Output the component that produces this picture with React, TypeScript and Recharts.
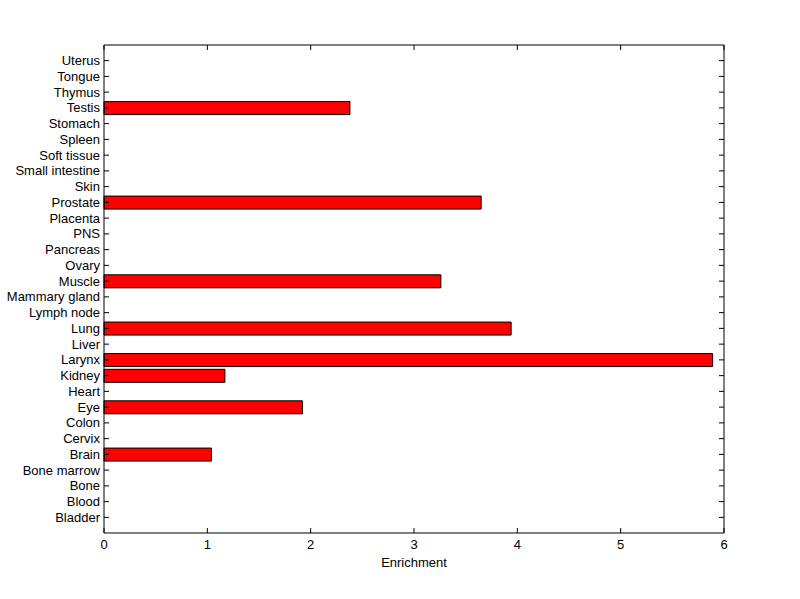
import { BarChart, Bar, XAxis, YAxis } from "recharts";

const tissues = [
  "Uterus", "Tongue", "Thymus", "Testis", "Stomach", "Spleen", "Soft tissue",
  "Small intestine", "Skin", "Prostate", "Placenta", "PNS", "Pancreas", "Ovary",
  "Muscle", "Mammary gland", "Lymph node", "Lung", "Liver", "Larynx", "Kidney",
  "Heart", "Eye", "Colon", "Cervix", "Brain", "Bone marrow", "Bone", "Blood",
  "Bladder",
];

const enrichment = [
  0, 0, 0, 2.38, 0, 0, 0,
  0, 0, 3.65, 0, 0, 0, 0,
  3.26, 0, 0, 3.94, 0, 5.89, 1.17,
  0, 1.92, 0, 0, 1.04, 0, 0, 0,
  0,
];

const xTicks = [0, 1, 2, 3, 4, 5, 6];

const data = tissues.map((name, i) => ({ name, value: enrichment[i] }));

const fontFamily = "Liberation Sans, Arial, sans-serif";
const pad = { top: 7.75, bottom: 7.75 };

const YLabel = ({ x, y, payload }: any) => (
  <text x={x} y={y} dy={4.5} textAnchor="end" fontSize={13} fontFamily={fontFamily} fill="#000">
    {payload.value}
  </text>
);

const XLabel = ({ x, y, payload }: any) => (
  <text x={x} y={y} dy={10} textAnchor="middle" fontSize={13} fontFamily={fontFamily} fill="#000">
    {payload.value}
  </text>
);

const NoLabel = () => <g />;

export default function App() {
  return (
    <div style={{ position: "absolute", left: 0, top: 0, width: 800, height: 599, background: "#fff" }}>
      <BarChart
        width={800}
        height={599}
        data={data}
        layout="vertical"
        barCategoryGap="10%"
        margin={{ top: 40, right: 66, left: 0, bottom: 32 }}
      >
        <XAxis
          type="number"
          dataKey="value"
          domain={[0, 6]}
          ticks={xTicks}
          height={34}
          stroke="#000"
          tick={<XLabel />}
          tickSize={-5}
          tickMargin={11}
          label={{ value: "Enrichment", position: "insideBottom", offset: 0, fontSize: 13, fontFamily, fill: "#000" }}
        />
        <XAxis
          xAxisId="top"
          orientation="top"
          type="number"
          dataKey="value"
          domain={[0, 6]}
          ticks={xTicks}
          height={5}
          stroke="#000"
          tick={<NoLabel />}
          tickSize={-5}
        />
        <YAxis
          type="category"
          dataKey="name"
          width={104}
          stroke="#000"
          tick={<YLabel />}
          tickSize={-5}
          tickMargin={9}
          interval={0}
          padding={pad}
        />
        <YAxis
          yAxisId="right"
          orientation="right"
          type="category"
          dataKey="name"
          width={10}
          stroke="#000"
          tick={<NoLabel />}
          tickSize={-5}
          interval={0}
          padding={pad}
        />
        <Bar dataKey="value" fill="#ff0000" stroke="#000" strokeWidth={1} isAnimationActive={false} />
      </BarChart>
    </div>
  );
}
